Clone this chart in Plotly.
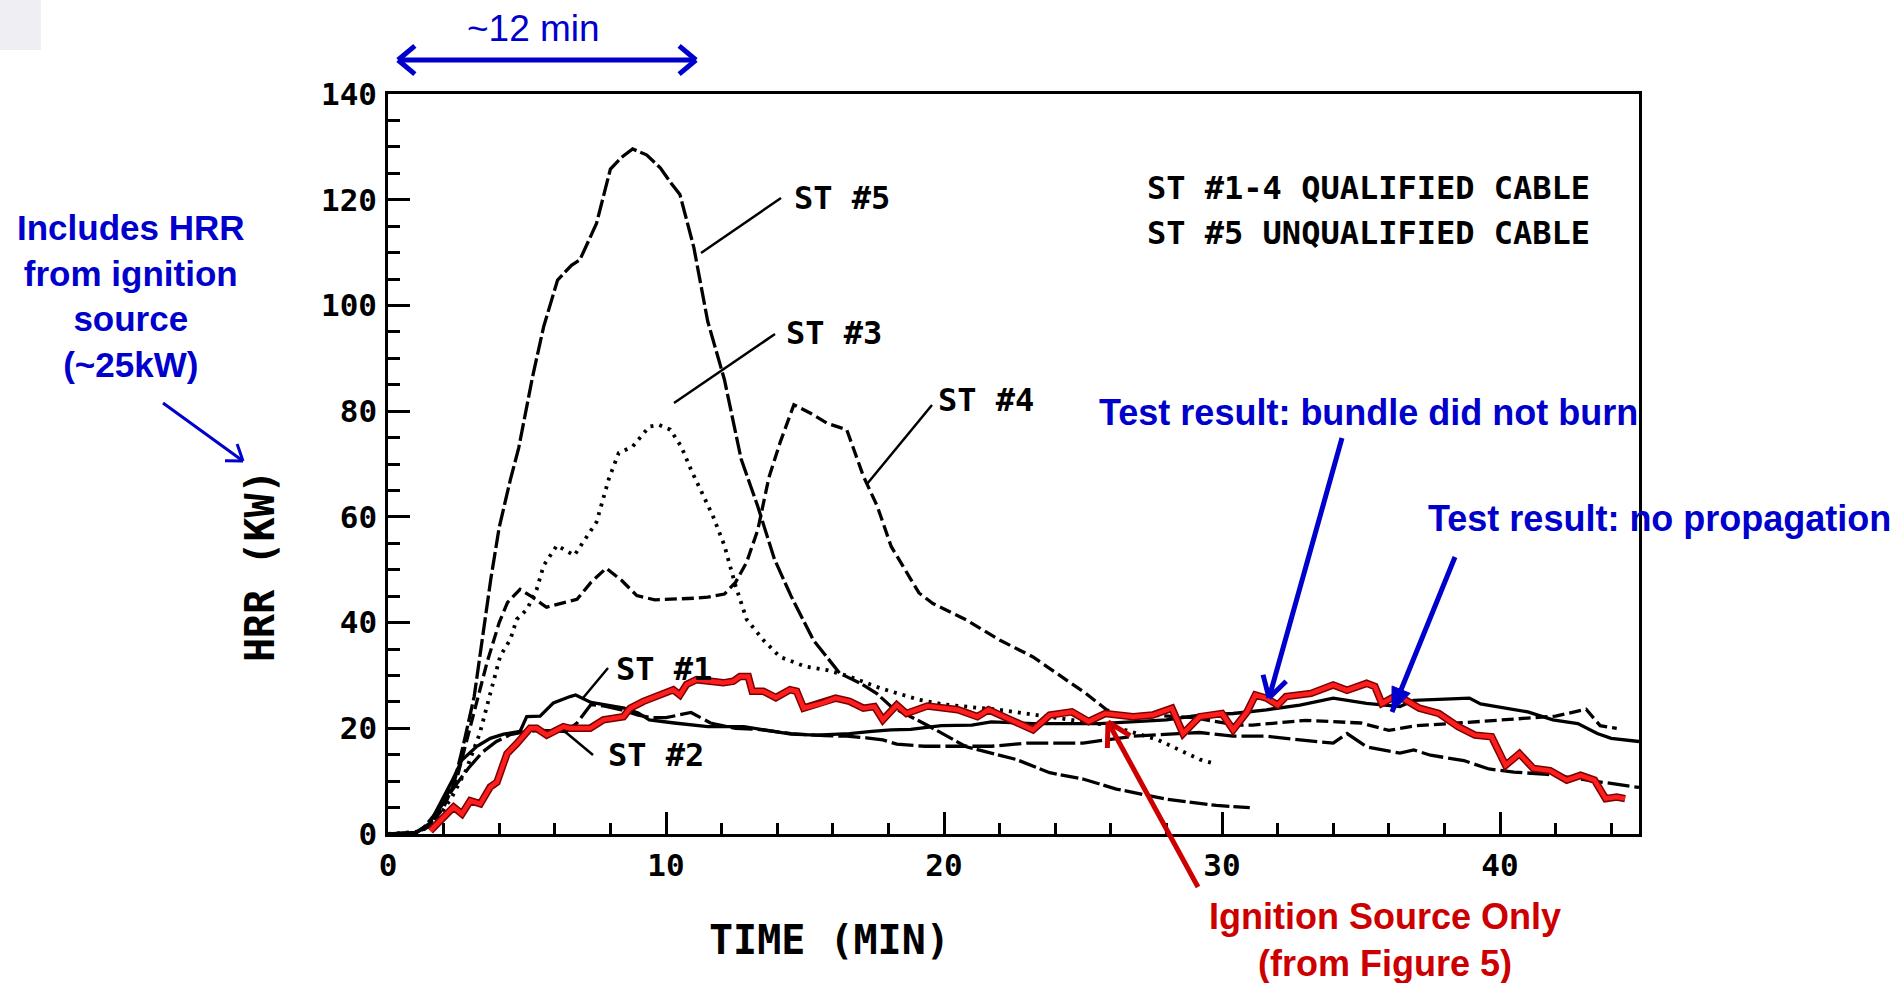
import math
import plotly.graph_objects as go

# ---------------- data ----------------
ST1_T = [0, 1.0, 1.5, 2.0, 2.3, 2.66, 3.2, 3.68, 4.16, 4.75, 4.99, 5.47, 5.95, 6.55, 6.75, 7.3, 7.9, 8.5,
         9.0, 9.4, 10.3, 11.5, 12.8, 13.9, 14.5, 15.4, 16.6, 17.4, 18.1, 18.8, 19.9, 21.0, 21.7, 23.2, 25.6,
         28.0, 29.2, 30.4, 31.6, 32.8, 34.0, 35.2, 36.4, 36.9, 38.9, 39.3, 40.2, 41.0, 41.9, 42.8, 43.5, 44.0, 45.0]
ST1_V = [0, 0.2, 2, 7, 10, 14, 16.6, 18.1, 18.9, 19.4, 22.2, 22.3, 24.8, 26, 26.3, 24.9, 24.4, 23.8,
         22.9, 21.6, 21.0, 20.3, 20.3, 19.4, 18.9, 18.7, 19.0, 19.4, 19.7, 19.8, 20.5, 20.6, 21.2, 20.9, 20.9,
         21.6, 22.5, 22.8, 23.5, 24.4, 25.7, 24.7, 24.1, 25.3, 25.7, 24.6, 23.8, 23.1, 21.6, 20.9, 19.0, 18.1, 17.5]

ST2_T = [0, 1.0, 1.5, 2.0, 2.4, 2.9, 3.4, 3.9, 4.4, 4.9, 5.5, 6.0, 6.4, 6.8, 7.3, 7.8, 8.4, 9.0, 9.5, 10.0,
         10.9, 11.6, 12.5, 13.3, 14.5, 15.7, 16.5, 17.2, 17.8, 18.3, 19.3, 20.5, 21.7, 23.0, 25.0, 26.8, 28.0,
         29.2, 30.4, 31.6, 32.8, 34.0, 34.5, 35.2, 36.4, 36.9, 37.5, 38.7, 39.6, 40.5, 41.7, 42.9, 44.1, 45.0]
ST2_V = [0, 0.2, 1.8, 6, 9, 12.5, 15.5, 17.5, 18.8, 19.3, 19.6, 19.5, 19.4, 21.0, 24.5, 24.2, 23.5, 22.5, 22.0, 22.0,
         23.0, 21.0, 20.0, 19.8, 19.0, 18.6, 18.5, 18.2, 17.8, 17.0, 16.6, 16.6, 16.6, 17.2, 17.2, 18.5, 18.8,
         19.2, 18.5, 18.5, 17.8, 17.2, 19.0, 16.5, 15.3, 15.9, 14.9, 13.9, 12.3, 11.7, 11.3, 10.4, 9.5, 8.8]

ST3_T = [0, 1.2, 1.8, 2.3, 2.8, 3.3, 3.7, 4.04, 4.4, 4.63, 5.0, 5.35, 5.6, 6.08, 6.7, 7.1, 7.5, 7.95, 8.3, 8.8,
         9.4, 9.75, 10.15, 10.55, 10.9, 11.3, 11.7, 12.1, 12.5, 12.9, 13.5, 14.1, 15.0, 15.8, 16.6, 17.7, 19.1,
         20.0, 22.0, 24.0, 26.0, 27.7, 29.2, 29.6]
ST3_V = [0, 0.5, 3, 7, 12, 19, 27, 33.7, 36.8, 40.6, 42.5, 46.3, 50.8, 54.6, 52.7, 56, 59, 67.3, 72.1, 73.3,
         77.1, 77.4, 76.5, 73.3, 68.9, 64.5, 60, 54.6, 47, 40.6, 36.7, 33.5, 31.7, 31, 29.8, 27.6, 25.4,
         24.5, 23.5, 22, 20.5, 17.8, 14.1, 13.5]

ST4_T = [0, 1.0, 1.5, 2.0, 2.5, 2.84, 3.2, 3.56, 4.0, 4.3, 4.75, 5.2, 5.7, 6.3, 6.8, 7.3, 7.85, 8.4, 8.95, 9.6,
         10.3, 11.0, 11.5, 12.1, 12.5, 12.9, 13.3, 13.7, 14.1, 14.6, 15.2, 15.8, 16.5, 17.1, 17.6, 18.1, 19.1,
         19.6, 20.8, 22.0, 23.2, 24.4, 25.1, 25.85, 26.3, 27.5, 29.0, 30.5, 31.1, 33.0, 35.0, 36.0, 37.0, 38.5,
         40.0, 42.0, 43.1, 43.6, 44.2]
ST4_V = [0, 0.2, 1.5, 5, 11, 17.8, 24.8, 32.4, 40, 43.8, 46.3, 44.8, 42.9, 43.8, 44.4, 47.6, 50.3, 48, 45.1, 44.3,
         44.4, 44.6, 44.8, 45.4, 47.6, 51.4, 57.5, 67.4, 74, 81.2, 79.6, 77.7, 76.5, 67.7, 62, 54.4, 45.6,
         43.6, 40.5, 36.7, 33.5, 29.1, 26.6, 23.5, 22.5, 22.5, 22.0, 20.6, 20.6, 21.5, 21.0, 19.6, 20.5, 21.0,
         21.5, 22.3, 23.6, 20.5, 20.0]

ST5_T = [0, 1.0, 1.3, 1.9, 2.4, 2.7, 3.1, 3.4, 3.7, 4.0, 4.4, 4.7, 5.2, 5.6, 6.1, 6.6, 6.9, 7.5, 8.0, 8.4, 8.8,
         9.3, 9.8, 10.2, 10.5, 11.0, 11.5, 12.1, 12.7, 13.3, 13.9, 14.5, 15.3, 16.25, 17.0, 17.6, 18.1, 19.5,
         20.8, 22.6, 23.8, 25.0, 26.2, 28.0, 29.8, 31.0]
ST5_V = [0, 0.3, 1.3, 5.1, 10.2, 16.6, 26, 36.8, 48.3, 58, 67, 73, 86.5, 96, 104.8, 107.6, 108.6, 115.5, 125.8, 128, 129.6,
         128.5, 126, 123, 121, 111, 97, 86, 71, 62, 52, 45, 36.7, 30.4, 28.5, 26.5, 24.1, 20.3,
         16.5, 14.1, 11.6, 10.4, 8.5, 6.6, 5.4, 5.0]

IGN_T = [1.52, 2.36, 2.66, 2.96, 3.32, 3.68, 3.92, 4.28, 4.63, 5.11, 5.35, 5.71, 6.31, 6.55, 7.27, 7.75, 8.47, 8.71,
         9.19, 9.9, 10.26, 10.5, 10.74, 11.1, 12.06, 12.42, 12.66, 12.96, 13.1, 13.5, 13.95, 14.46, 14.7, 14.95,
         15.65, 16.1, 16.6, 17.1, 17.5, 17.8, 18.3, 18.65, 19.4, 20.5, 21.2, 21.6, 22.4, 23.2, 23.8, 24.6, 25.2,
         25.8, 26.8, 27.5, 28.2, 28.6, 29.2, 30.0, 30.4, 30.9, 31.2, 31.6, 32.0, 32.3, 33.2, 34.0, 34.5, 35.2,
         35.5, 35.75, 36.3, 37.1, 37.8, 38.5, 39.1, 39.7, 40.2, 40.7, 41.2, 41.8, 42.4, 42.9, 43.4, 43.8, 44.2, 44.5]
IGN_V = [0.6, 5.1, 3.8, 6.3, 5.7, 8.9, 9.8, 15.2, 17.1, 20.0, 20.0, 18.7, 20.3, 20.0, 20.0, 21.6, 22.2, 23.8,
         25.1, 26.7, 27.3, 26.3, 28.3, 29.2, 28.6, 28.9, 29.8, 29.8, 27.0, 27.0, 25.8, 27.3, 27.0, 23.8,
         24.8, 25.7, 25.1, 23.8, 24.1, 21.6, 24.4, 22.8, 24.2, 23.5, 22.2, 23.5, 21.6, 19.7, 22.5, 23.1, 21.3,
         22.8, 22.2, 22.5, 23.8, 19.0, 22.2, 22.8, 19.7, 23.1, 26.3, 25.7, 24.4, 26.0, 26.6, 28.2, 27.2, 28.5,
         27.9, 24.7, 26.3, 23.8, 22.8, 20.3, 18.7, 18.4, 13.0, 15.2, 12.4, 12.0, 10.2, 11.1, 10.2, 6.7, 7.0, 6.7]

X_TICKS = [0, 10, 20, 30, 40]
Y_TICKS = [0, 20, 40, 60, 80, 100, 120, 140]

# ---------------- layout geometry (pixels) ----------------
W, H = 1898, 983
PL, PR, PT, PB = 388, 1639, 94, 834

def px(x):
    return (x - PL) / (PR - PL)

def py(y):
    return (PB - y) / (PB - PT)

BLUE = "#0000CC"
RED = "#CC0000"
MONO = "DejaVu Sans Mono"
SANS = "Liberation Sans, Arial, sans-serif"

fig = go.Figure()

def curve(t, v, dash, width=3.3, color="black"):
    fig.add_trace(go.Scatter(x=t, y=v, mode="lines",
                             line=dict(color=color, width=width, dash=dash),
                             hoverinfo="skip", showlegend=False))

curve(ST1_T, ST1_V, "solid")
curve(ST2_T, ST2_V, "22px,5px")
curve(ST3_T, ST3_V, "3px,6px", width=3.8)
curve(ST4_T, ST4_V, "12px,5px")
curve(ST5_T, ST5_V, "18px,4px")
# ignition source only (red band)
curve(IGN_T, IGN_V, "solid", width=7.5, color="#7a0000")
curve(IGN_T, IGN_V, "solid", width=4.5, color="#FF1E1E")

shapes = []

def seg(x0, y0, x1, y1, color="black", width=2.5):
    shapes.append(dict(type="line", xref="paper", yref="paper",
                       x0=px(x0), y0=py(y0), x1=px(x1), y1=py(y1),
                       line=dict(color=color, width=width)))

def vhead(xs, ys, xe, ye, color, width, L=22, ang=32):
    d = math.atan2(ye - ys, xe - xs)
    for s in (1, -1):
        a = d + math.pi - s * math.radians(ang)
        seg(xe, ye, xe + L * math.cos(a), ye + L * math.sin(a), color, width)

def arrow(xs, ys, xe, ye, color, width, L=22, ang=32, filled=False, double=False):
    seg(xs, ys, xe, ye, color, width)
    if filled:
        d = math.atan2(ye - ys, xe - xs)
        pts = [(xe, ye)]
        for s in (1, -1):
            a = d + math.pi - s * math.radians(ang)
            pts.append((xe + L * math.cos(a), ye + L * math.sin(a)))
        path = "M {} {} L {} {} L {} {} Z".format(*[c for p in pts for c in (px(p[0]), py(p[1]))])
        shapes.append(dict(type="path", xref="paper", yref="paper", path=path,
                           fillcolor=color, line=dict(color=color, width=1)))
    else:
        vhead(xs, ys, xe, ye, color, width, L, ang)
    if double:
        vhead(xe, ye, xs, ys, color, width, L, ang)

# leader lines for series labels
seg(701, 253, 781, 198)    # ST #5
seg(674, 403, 775, 334)    # ST #3
seg(867, 484, 932, 405)    # ST #4
seg(583, 698, 608, 668)    # ST #1
seg(563, 730, 593, 755)    # ST #2

# annotation arrows
arrow(398, 60, 696, 60, BLUE, 5, L=22, ang=40, double=True)
arrow(163, 403, 243, 461, BLUE, 3, L=18, ang=35)
arrow(1342, 438, 1269, 698, BLUE, 5, L=24, ang=30)
arrow(1455, 557, 1392, 712, BLUE, 5, L=26, ang=22, filled=True)
arrow(1198, 887, 1108, 722, RED, 5, L=26, ang=30)

# faint grey box at top-left
shapes.append(dict(type="rect", xref="paper", yref="paper", x0=px(0), x1=px(41), y0=py(0), y1=py(50),
                   fillcolor="#EEEEF3", line=dict(width=0), layer="below"))

ann = []

def text(x, y, s, size, color="black", family=MONO, xanchor="center", yanchor="middle", bold=False, angle=0):
    ann.append(dict(xref="paper", yref="paper", x=px(x), y=py(y), text=s, showarrow=False,
                    xanchor=xanchor, yanchor=yanchor, textangle=angle,
                    font=dict(family=family, size=size, color=color, weight="bold" if bold else "normal")))

# plotter-style labels
text(842, 198, "ST #5", 32, bold=True)
text(834, 333, "ST #3", 32, bold=True)
text(986, 400, "ST #4", 32, bold=True)
text(664, 669, "ST #1", 32, bold=True)
text(656, 755, "ST #2", 32, bold=True)
text(1592, 188, "ST #1-4 QUALIFIED CABLE", 32, xanchor="right", bold=True)
text(1592, 233, "ST #5 UNQUALIFIED CABLE", 32, xanchor="right", bold=True)
text(829, 940, "TIME (MIN)", 40, bold=True)
text(260, 566, "HRR (KW)", 40, angle=-90, bold=True)

# presentation call-outs
text(533, 28, "~12 min", 37, color=BLUE, family=SANS)
text(131, 296, "Includes HRR<br>from ignition<br>source<br>(~25kW)", 35, color=BLUE, family=SANS, bold=True)
text(1368, 412, "Test result: bundle did not burn", 36, color=BLUE, family=SANS, bold=True)
text(1893, 518, "Test result: no propagation", 36, color=BLUE, family=SANS, bold=True, xanchor="right")
text(1385, 940, "Ignition Source Only<br>(from Figure 5)", 36, color=RED, family=SANS, bold=True)

axis_common = dict(showgrid=False, zeroline=False, showline=True, linecolor="black", linewidth=2.5,
                   mirror=True, ticks="inside", tickcolor="black", tickwidth=2.5,
                   tickfont=dict(family=MONO, size=31, color="black", weight="bold"))

fig.update_layout(
    width=W, height=H, autosize=False,
    margin=dict(l=PL, r=W - PR, t=PT, b=H - PB, pad=0),
    paper_bgcolor="white", plot_bgcolor="white",
    xaxis=dict(range=[0, 45], tickmode="array", tickvals=X_TICKS, ticktext=[str(v) for v in X_TICKS],
               ticklen=22, ticklabelstandoff=2,
               minor=dict(dtick=2, tick0=0, ticklen=11, tickwidth=2.5, tickcolor="black", ticks="inside", showgrid=False),
               **axis_common),
    yaxis=dict(range=[0, 140], tickmode="array", tickvals=Y_TICKS, ticktext=[str(v) for v in Y_TICKS],
               ticklen=22, ticklabelstandoff=2,
               minor=dict(dtick=5, tick0=0, ticklen=12, tickwidth=2.5, tickcolor="black", ticks="inside", showgrid=False),
               **axis_common),
    shapes=shapes,
    annotations=ann,
    showlegend=False,
)

fig.write_html("out.html")
